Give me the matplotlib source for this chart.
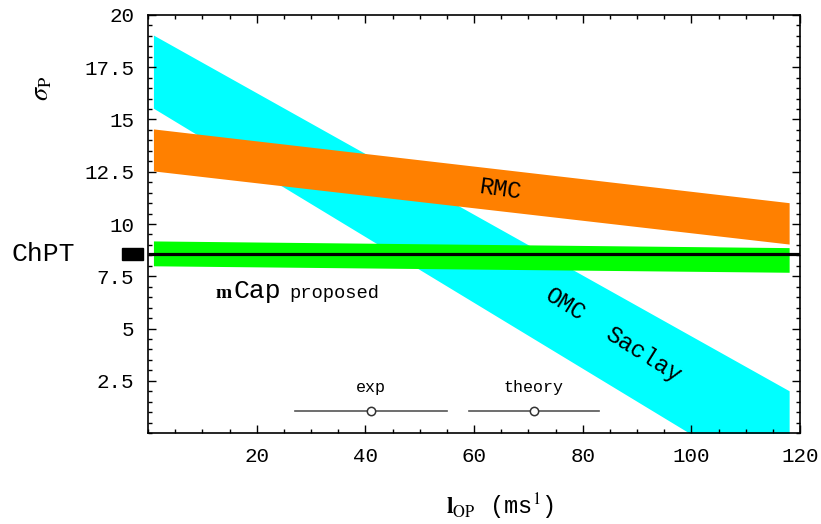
import matplotlib
matplotlib.use("Agg")
import matplotlib.pyplot as plt
from matplotlib.ticker import MultipleLocator, FixedLocator
from matplotlib.patches import Rectangle
import matplotlib.transforms as mtransforms

# data
lam_ends = [1, 118]
omc_hi = [19.04, 2.02]
omc_lo = [15.54, -2.9]
rmc_hi = [14.55, 11.02]
rmc_lo = [12.54, 9.04]
mucap_hi = [9.19, 8.87]
mucap_lo = [8.0, 7.69]
chpt_val = 8.57
chpt_err = 0.28

err_x = [41, 71]
err_y = [1.05, 1.05]
err_half = [14, 12]
err_names = ["exp", "theory"]

xticks = [20, 40, 60, 80, 100, 120]
yticks = [2.5, 5, 7.5, 10, 12.5, 15, 17.5, 20]
ytick_labels = ["2.5", "5", "7.5", "10", "12.5", "15", "17.5", "20"]

W, H = 821, 524
MONO = "Liberation Mono"
plt.rcParams["font.family"] = MONO
plt.rcParams["mathtext.fontset"] = "stix"


def px(x, y):
    # pixel position (from top-left) -> figure fraction
    return x / W, 1 - y / H


fig = plt.figure(figsize=(W / 100, H / 100), dpi=100)
ax = fig.add_axes([148 / W, 91 / H, 652 / W, 418 / H])

ax.fill_between(lam_ends, omc_lo, omc_hi, color="#00FFFF", lw=0, zorder=1)
ax.fill_between(lam_ends, rmc_lo, rmc_hi, color="#FF8000", lw=0, zorder=2)
ax.fill_between(lam_ends, mucap_lo, mucap_hi, color="#00FF00", lw=0, zorder=3)
ax.plot([0, 120], [chpt_val, chpt_val], color="black", lw=2.3, zorder=4,
        solid_capstyle="butt")

# ChPT marker left of the frame
trans = mtransforms.blended_transform_factory(ax.transAxes, ax.transData)
ax.add_patch(Rectangle((-0.040, chpt_val - chpt_err), 0.032, 2 * chpt_err,
                       transform=trans, color="black", clip_on=False))
ax.text(-0.209, chpt_val, "ChPT", transform=trans, fontsize=19,
        ha="left", va="center")

# exp / theory error bars
for x, y, h, name in zip(err_x, err_y, err_half, err_names):
    ax.plot([x - h, x + h], [y, y], color="#555555", lw=1.2, zorder=5)
    ax.plot([x], [y], "o", mfc="white", mec="#333333", ms=6, mew=1.1, zorder=6)
    ax.text(x, y + 1.15, name, fontsize=12, ha="center", va="center")

fig.text(*px(500, 190), "RMC", fontsize=17, ha="center", va="center",
         rotation=-8)
fig.text(*px(565, 305), "OMC", fontsize=17, ha="center", va="center",
         rotation=-32)
fig.text(*px(643, 355), "Saclay", fontsize=17, ha="center", va="center",
         rotation=-32)

fig.text(*px(215, 298), "m", fontsize=14, fontweight="bold",
         family="Liberation Serif", ha="left", va="baseline")
fig.text(*px(233, 298), "Cap", fontsize=19, ha="left", va="baseline")
fig.text(*px(289, 298), "proposed", fontsize=13.5, ha="left",
         va="baseline")

ax.set_xlim(0, 120)
ax.set_ylim(0, 20)
ax.xaxis.set_major_locator(FixedLocator(xticks))
ax.xaxis.set_minor_locator(MultipleLocator(5))
ax.yaxis.set_major_locator(FixedLocator(yticks))
ax.yaxis.set_minor_locator(MultipleLocator(0.5))
ax.set_yticklabels(ytick_labels)
ax.tick_params(which="both", direction="in", top=True, right=True,
               labelsize=15, width=1)
ax.tick_params(which="major", length=6, pad=10)
ax.tick_params(which="minor", length=3)
for s in ax.spines.values():
    s.set_linewidth(1.2)

fig.text(*px(42, 88), r"$\sigma_{\mathrm{P}}$", fontsize=19,
         rotation=90, ha="center", va="center")
fig.text(*px(500, 507), r"$\mathbf{l}_{\mathrm{OP}}$ (ms$^{1}$)", fontsize=17,
         ha="center", va="center")

fig.savefig("out.png", dpi=100)
